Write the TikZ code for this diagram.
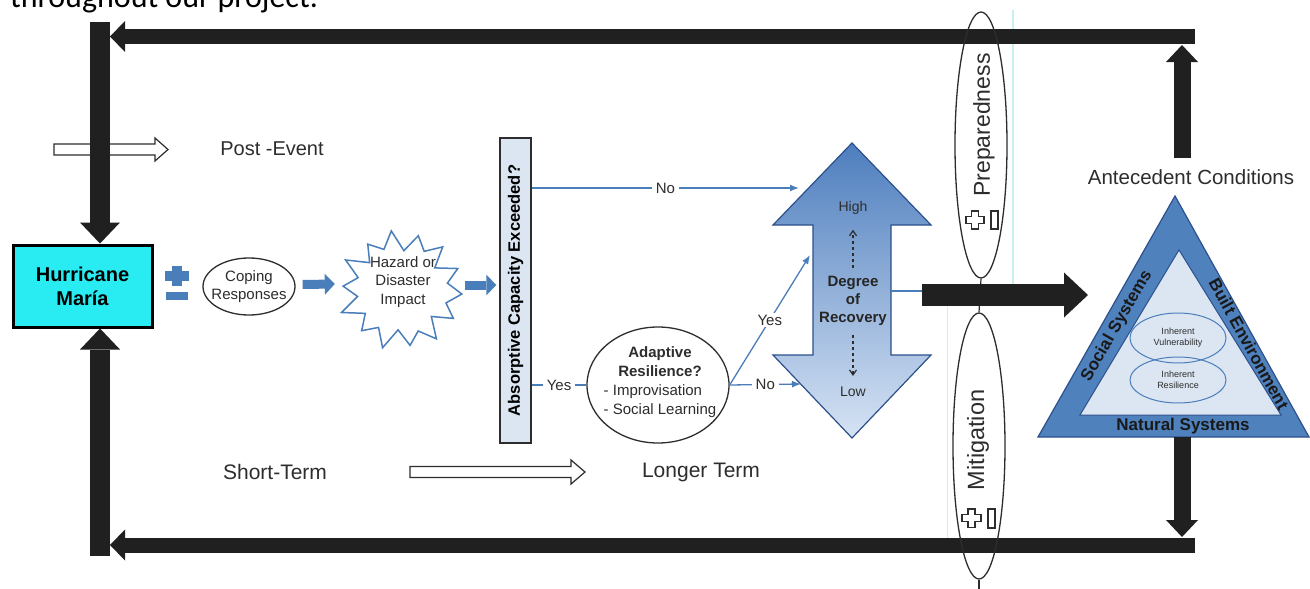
\documentclass[tikz,border=0pt]{standalone}
\usepackage{fontspec}
\setmainfont{Liberation Sans}
\newfontfamily\calib{Carlito}
\usetikzlibrary{arrows.meta,shapes.geometric,calc}
\definecolor{cyanbox}{RGB}{40,236,242}
\definecolor{bl}{RGB}{74,126,187}
\definecolor{bldark}{RGB}{44,80,140}
\definecolor{blmain}{RGB}{79,129,189}
\definecolor{blpale}{RGB}{220,230,242}
\definecolor{bltop}{RGB}{78,126,190}
\definecolor{blmid}{RGB}{120,160,212}
\definecolor{blbot}{RGB}{214,227,244}
\definecolor{txt}{RGB}{45,45,45}
\definecolor{barblack}{RGB}{32,32,32}
\definecolor{lcyan}{RGB}{200,240,240}
\newcommand\fsz[2]{\fontsize{#1}{#2}\selectfont}
\tikzset{
  every node/.style={inner sep=0pt, text=txt},
  blackbar/.style={barblack, line width=#1},
  thinblue/.style={bl, line width=1.3pt, -{Latex[length=9pt,width=7pt]}},
  thinbluenoarrow/.style={bl, line width=1.3pt},
  lbl/.style={fill=white, inner xsep=4pt, inner ysep=2pt, font=\fsz{15}{18}},
  outline/.style={draw=txt, line width=1.3pt},
  fatblue/.style={bl, line width=9pt, -{Triangle[length=10pt,width=21pt,line width=0pt]}},
  hollow/.style={draw=txt, line width=1.2pt, fill=white},
  pm/.style={draw=txt, line width=1.2pt, fill=white},
  sidelbl/.style={font=\bfseries\fsz{17}{20}, text=black!90},
  declare function={rr(\k)=44+17*(1-mod(\k,2))+3*sin(\k*97);}
}
\begin{document}
\begin{tikzpicture}[x=1pt,y=-1pt]
\useasboundingbox (0,0) rectangle (1310,589);
\fill[white] (0,0) rectangle (1310,589);

% caption line cut at the top
\node[anchor=base west, font=\calib\fsz{32}{38}, text=black] (cap) at (10,7) {throughout our project.};

% faint cyan guide lines
\draw[lcyan, line width=1.5pt] (1013,10) -- (1013,288);
\draw[lcyan, line width=1pt] (947,300) -- (947,545);

% Post-Event hollow arrow
\draw[hollow] (54,144) -- (155,144) -- (155,138) -- (168,149.5) -- (155,161) -- (155,155) -- (54,155) -- cycle;
\node[font=\fsz{20}{24}] (post) at (272,149) {Post -Event};

% Hurricane box
\node[draw=black, line width=3pt, fill=cyanbox, minimum width=139pt, minimum height=82pt,
      align=center, font=\bfseries\fsz{20}{24}, text=black] (hm) at (82.5,286) {Hurricane\\María};

% black frame
\coordinate (lt) at (100,22);
\coordinate (lb) at (100,556);
\coordinate (tr) at (1195,36.5);
\coordinate (tl) at (110,36.5);
\coordinate (br) at (1195,545);
\coordinate (bll) at (110,545);
\draw[blackbar=20pt, -{Triangle[length=21pt,width=40pt,line width=0pt]}] (lt) -- (lt |- hm.north);
\draw[blackbar=20pt, -{Triangle[length=21pt,width=40pt,line width=0pt]}] (lb) -- (lb |- hm.south);
\draw[blackbar=15pt, -{Triangle[length=15pt,width=31pt,line width=0pt]}] (tr) -- (tl);
\draw[blackbar=15pt, -{Triangle[length=15pt,width=31pt,line width=0pt]}] (br) -- (bll);

% plus / minus (blue)
\fill[bl] (172,266) rectangle (182,286);
\fill[bl] (165,271) rectangle (189,281);
\fill[bl] (166,292) rectangle (188,300);

% Coping responses
\node[ellipse, outline, minimum width=92pt, minimum height=57pt] (cope) at (249,286.5) {};
\node[font=\fsz{15}{18}, align=center] (copet) at (cope) {Coping\\Responses};

% Hazard starburst
\node[circle, minimum size=120pt] (hz) at (401,289) {};
\draw[bl, line width=1.5pt, fill=white]
  plot[samples=28, domain=0:27] ({401+rr(\x)*cos(\x*360/28+4)}, {290+0.95*rr(\x)*sin(\x*360/28+4)}) -- cycle;
\node[font=\fsz{15}{18.5}, align=center] (hzt) at (403,282) {Hazard or\\Disaster\\Impact};

% Absorptive capacity
\node[draw=txt, line width=1.5pt, fill=blpale, minimum width=31pt, minimum height=305pt] (abs) at (515.5,290.5) {};
\node[rotate=90, font=\bfseries\fsz{16.5}{20}, text=black] (abst) at (abs) {Absorptive Capacity Exceeded?};

% fat blue arrows
\draw[fatblue] ([xshift=7pt,yshift=2pt]cope.east) -- ([xshift=-6pt,yshift=5pt]hz.west);
\draw[fatblue] ([xshift=4pt,yshift=4pt]hz.east) -- ([xshift=-3pt,yshift=5.5pt]abs.west);

% Degree of recovery double arrow
\coordinate (noend) at (799,188);
\coordinate (yesend) at (810,255);
\coordinate (lowend) at (801,384);
\draw[bldark, line width=1.2pt, top color=bltop, middle color=blmid, bottom color=blbot]
  (852,143) -- (931,225) -- (891,225) -- (891,355) -- (931,355) -- (852,438)
  -- (773,355) -- (813,355) -- (813,225) -- (773,225) -- cycle;
\node[font=\fsz{14}{17}] (high) at (853,208) {High};
\node[font=\fsz{14}{17}] (low) at (853,392) {Low};
\node[font=\bfseries\fsz{15}{18}, align=center, text=black!85] (dr) at (853,301) {Degree\\of\\Recovery};
\draw[txt, line width=1.2pt, dashed, -{Straight Barb[length=5pt,width=7pt]}, shorten <=8pt, shorten >=15pt] (dr.north) -- (high.south);
\draw[txt, line width=1.2pt, dashed, -{Straight Barb[length=5pt,width=7pt]}, shorten <=9pt, shorten >=11pt] (dr.south) -- (low.north);

% Adaptive resilience
\node[ellipse, outline, minimum width=142pt, minimum height=116pt] (ar) at (658,385) {};
\node[font=\fsz{15}{19}] (art) at (660,382) {\begin{tabular}{@{}l@{}}\multicolumn{1}{@{}c@{}}{\bfseries Adaptive}\\ \multicolumn{1}{@{}c@{}}{\bfseries Resilience?}\\ - Improvisation\\ - Social Learning\end{tabular}};

% thin blue connectors
\draw[thinblue] ([yshift=102.5pt]abs.east) -- node[lbl] {No} (noend);
\draw[thinbluenoarrow] (ar.west -| abs.east) -- node[lbl] {Yes} (ar.west);
\draw[thinblue] (ar.east) -- node[lbl] {No} (lowend);
\draw[thinblue] (ar.east) -- node[lbl, pos=0.5] {Yes} (yesend);

% preparedness / mitigation
\node[ellipse, outline, minimum width=52pt, minimum height=266pt] (prep) at (981,145) {};
\node[ellipse, outline, minimum width=52pt, minimum height=266pt] (mit) at (979,446) {};
\draw[txt, line width=1.2pt] (prep.south) -- (mit.north);
\draw[txt, line width=1.2pt] (mit.south) -- ++(0,12);
\node[rotate=90, font=\fsz{23}{27}] (prept) at (984,125) {Preparedness};
\node[rotate=90, font=\fsz{23.5}{27}] (mitt) at (978,440) {Mitigation};
\draw[pm] (971.5,211) -- (978.5,211) -- (978.5,216.5) -- (984,216.5) -- (984,223.5) -- (978.5,223.5) -- (978.5,229) -- (971.5,229) -- (971.5,223.5) -- (966,223.5) -- (966,216.5) -- (971.5,216.5) -- cycle;
\draw[pm] (991,211) rectangle (998,229);
\draw[pm] (968,509) -- (975,509) -- (975,514.5) -- (981,514.5) -- (981,521.5) -- (975,521.5) -- (975,527.5) -- (968,527.5) -- (968,521.5) -- (962,521.5) -- (962,514.5) -- (968,514.5) -- cycle;
\draw[pm] (988,509) rectangle (995,528);

% connector from big arrow to triangle
\coordinate (shaftR) at (891,291);
\coordinate (bkS) at (922,291);
\coordinate (bkE) at (1088,295);
\draw[thinbluenoarrow] (shaftR) -- (bkS);
\draw[blackbar=22pt, -{Triangle[length=24pt,width=45pt,line width=0pt]}] (922,295) -- (bkE);

% Antecedent conditions triangle
\coordinate (tA) at (1175,196);
\coordinate (tB) at (1038,437);
\coordinate (tC) at (1309,437);
\draw[bldark, line width=1.2pt, fill=blmain] (tA) -- (tB) -- (tC) -- cycle;
\draw[bldark, line width=1pt, fill=blpale] (1179,250) -- (1080,415) -- (1281,415) -- cycle;
\node[ellipse, draw=bl, line width=1pt, minimum width=96pt, minimum height=50pt] (iv) at (1178,338) {};
\node[ellipse, draw=bl, line width=1pt, minimum width=96pt, minimum height=46pt] (ir) at (1178,380) {};
\node[font=\fsz{9}{11}, align=center] (ivt) at (iv) {Inherent\\Vulnerability};
\node[font=\fsz{9}{11}, align=center] (irt) at (ir) {Inherent\\Resilience};
\node[sidelbl, rotate=60] (soc) at (1117,326) {Social Systems};
\node[sidelbl, rotate=-61] (built) at (1249,344) {Built Environment};
\node[sidelbl] (nat) at (1183,426) {Natural Systems};
\node[font=\fsz{20.5}{24}] (ante) at (1191,177) {Antecedent Conditions};

% right vertical arrows
\coordinate (rU) at (1182,158);
\coordinate (rUe) at (1182,45);
\coordinate (rD) at (1182,437);
\coordinate (rDe) at (1182,537);
\draw[blackbar=17pt, -{Triangle[length=17pt,width=32pt,line width=0pt]}] (rU) -- (rUe);
\draw[blackbar=17pt, -{Triangle[length=17pt,width=32pt,line width=0pt]}] (rD) -- (rDe);

% time axis
\node[font=\fsz{21}{25}] (st) at (275,472) {Short-Term};
\draw[hollow] (410,466.5) -- (571,466.5) -- (571,460) -- (585,472) -- (571,484) -- (571,477.5) -- (410,477.5) -- cycle;
\node[font=\fsz{21}{25}] (lt2) at (701,472) {Longer Term};
\end{tikzpicture}
\end{document}
